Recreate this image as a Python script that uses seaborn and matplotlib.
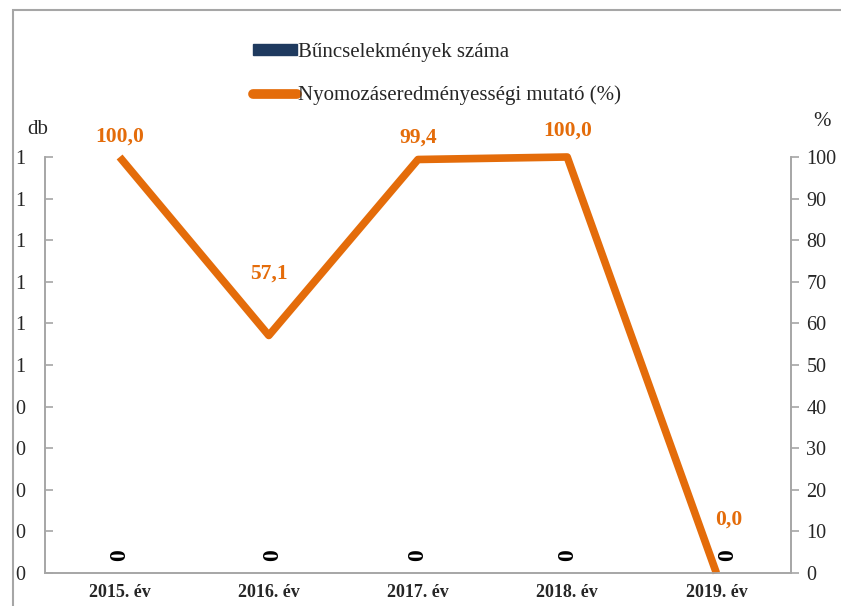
import numpy as np
import pandas as pd
import matplotlib.pyplot as plt
import seaborn as sns
from matplotlib.patches import Rectangle, Patch
from matplotlib.lines import Line2D

# data
years = ["2015. év", "2016. év", "2017. év", "2018. év", "2019. év"]
crime_counts = [0, 0, 0, 0, 0]
success_rate = [100.0, 57.1, 99.4, 100.0, 0.0]
db_ticks = [0, 0.1, 0.2, 0.3, 0.4, 0.5, 0.6, 0.7, 0.8, 0.9, 1.0]
db_tick_labels = ["0", "0", "0", "0", "0", "1", "1", "1", "1", "1", "1"]
pct_ticks = [0, 10, 20, 30, 40, 50, 60, 70, 80, 90, 100]

bar_name = "Bűncselekmények száma"
line_name = "Nyomozáseredményességi mutató (%)"

# label offsets (px) for the annotations
label_offsets = [(0, 20), (0, 62), (0, 22), (0, 26), (12, 53)]
bar_label_offsets = [(0, 18), (4, 18), (0, 18), (0, 18), (11, 18)]

BAR_COLOR = "#1F3A5F"
LINE_COLOR = "#E46C0A"
GRAY = "#A6A6A6"

sns.set_theme(style="white")
plt.rcParams["font.family"] = ["Liberation Serif", "DejaVu Serif"]

df = pd.DataFrame({"year": years, "count": crime_counts, "rate": success_rate})

fig = plt.figure(figsize=(8.41, 6.06), dpi=100)
ax = fig.add_axes([45 / 841, 1 - 573 / 606, (791 - 45) / 841, (573 - 157) / 606])

sns.barplot(data=df, x="year", y="count", color=BAR_COLOR, width=0.5, ax=ax)
ax.set_ylim(0, 1)
ax.set_yticks(db_ticks)
ax.set_yticklabels(db_tick_labels)

ax2 = ax.twinx()
sns.lineplot(data=df, x="year", y="rate", color=LINE_COLOR, linewidth=5.5,
             solid_joinstyle="round", solid_capstyle="butt", ax=ax2)
for ln in ax2.lines:
    ln.set_clip_on(False)
ax2.set_ylim(0, 100)
ax2.set_yticks(pct_ticks)

# bar value labels (drawn on the front axes so they stay visible)
for i, (v, off) in enumerate(zip(crime_counts, bar_label_offsets)):
    ax2.annotate(str(v), (i, 0), xytext=off, textcoords="offset pixels",
                 ha="center", va="center", rotation=90, fontweight="bold",
                 fontsize=17, color="black", zorder=5)

for i, (v, off) in enumerate(zip(success_rate, label_offsets)):
    ax2.annotate(f"{v:.1f}".replace(".", ","), (i, v), xytext=off,
                 textcoords="offset pixels", ha="center", va="center",
                 color=LINE_COLOR, fontweight="bold", fontsize=15.5)

ax.set_xlim(-0.5, len(years) - 0.5)
for a in (ax, ax2):
    a.set_xlabel("")
    a.set_ylabel("")
    a.grid(False)
    for s in a.spines.values():
        s.set_color(GRAY)
        s.set_linewidth(1.2)
    a.spines["top"].set_visible(False)

ax.tick_params(axis="y", direction="in", length=6, width=1.2, color=GRAY,
               pad=14, labelsize=14.5, left=True)
ax.tick_params(axis="x", length=0, pad=8, labelsize=13)
for t in ax.get_xticklabels():
    t.set_fontweight("bold")
ax2.tick_params(axis="y", direction="out", length=6, width=1.2, color=GRAY,
                pad=5, labelsize=14.5, right=True)

fig.text(38 / 841, 1 - 130 / 606, "db", ha="center", va="center", fontsize=15)
fig.text(822 / 841, 1 - 122 / 606, "%", ha="center", va="center", fontsize=15)

handles = [Patch(facecolor=BAR_COLOR, edgecolor=BAR_COLOR),
           Line2D([0], [0], color=LINE_COLOR, linewidth=7, solid_capstyle="round")]
fig.legend(handles, [bar_name, line_name], loc="upper left",
           bbox_to_anchor=(234 / 841, 1 - 24 / 606), frameon=False,
           fontsize=15, handlelength=2.1, handletextpad=0.05,
           labelspacing=1.15, handleheight=0.4)

fig.patches.append(Rectangle((13 / 841, -0.1), 1.2, 1.1 - 10 / 606,
                             transform=fig.transFigure, fill=False,
                             edgecolor=GRAY, linewidth=1.5))

fig.savefig("out.png", dpi=100)
